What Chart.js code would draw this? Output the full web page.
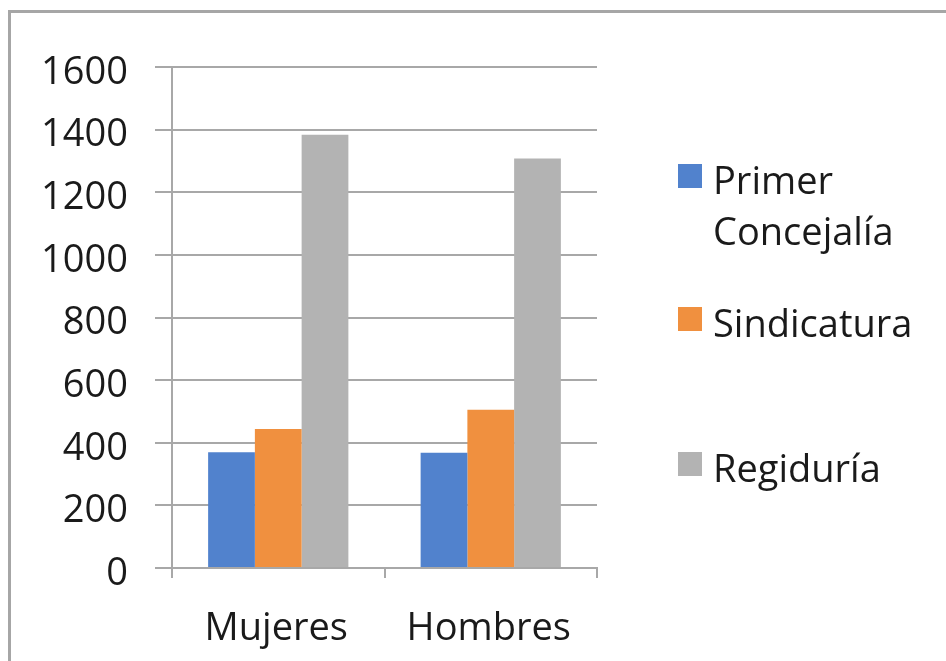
<!DOCTYPE html>
<html>
<head>
<meta charset="utf-8">
<script src="https://cdn.jsdelivr.net/npm/chart.js@4"></script>
<style>
  body { margin: 0; background: #fff; font-family: "Open Sans", sans-serif; }
  #wrap { position: relative; width: 946px; height: 661px; overflow: hidden; }
  #frame { position: absolute; left: 8px; top: 10px; width: 1200px; height: 1200px; border: 3px solid #a6a6a6; }
  canvas { position: absolute; left: 0; top: 0; }
  .lg { position: absolute; left: 678px; }
  .sw { position: absolute; left: 0; width: 24px; height: 24px; }
  .tx { position: absolute; left: 35px; font-size: 38px; line-height: 51px; color: #1a1a1a; white-space: nowrap; }
</style>
</head>
<body>
<div id="wrap">
  <div id="frame"></div>
  <canvas id="chart" width="946" height="661"></canvas>
  <div id="legend"></div>
</div>
<script>
const categories = ['Mujeres', 'Hombres'];
const primerConcejalia = [370, 368];
const sindicatura = [444, 505];
const regiduria = [1384, 1308];
const seriesNames = [['Primer', 'Concejalía'], ['Sindicatura'], ['Regiduría']];
const yTicks = [0, 200, 400, 600, 800, 1000, 1200, 1400, 1600];

const colors = ['#5182cd', '#f0903f', '#b3b3b3'];
const gridColor = '#a8a8a8';
const font = { family: 'Open Sans', size: 38 };

new Chart(document.getElementById('chart').getContext('2d'), {
  type: 'bar',
  data: {
    labels: categories,
    datasets: [primerConcejalia, sindicatura, regiduria].map((d, i) => ({
      label: seriesNames[i].join(' '),
      data: d,
      backgroundColor: colors[i],
      borderWidth: 0,
      barPercentage: 1,
      categoryPercentage: 0.66
    }))
  },
  options: {
    responsive: false,
    animation: false,
    layout: { padding: { left: 0, top: 67, right: 349, bottom: 0 } },
    plugins: { legend: { display: false }, tooltip: { enabled: false } },
    scales: {
      x: {
        offset: true,
        grid: { offset: true, drawOnChartArea: false, drawTicks: true, tickLength: 10, color: gridColor, lineWidth: 2 },
        border: { color: gridColor, width: 2 },
        ticks: { font: font, color: '#1a1a1a', padding: 28, labelOffset: -2 },
        afterFit: s => { s.height = 661 - 568; }
      },
      y: {
        min: 0,
        max: 1600,
        afterBuildTicks: s => { s.ticks = yTicks.map(v => ({ value: v })); },
        grid: { tickLength: 17, color: gridColor, lineWidth: 2 },
        border: { color: gridColor, width: 2 },
        ticks: { font: font, color: '#1a1a1a', padding: 27, labelOffset: 6, callback: v => String(v) },
        afterFit: s => { s.width = 172; }
      }
    }
  }
});

// legend drawn as html so the first label can wrap on two lines
const legendTops = [154, 297, 442];
const legend = document.getElementById('legend');
seriesNames.forEach((name, i) => {
  const item = document.createElement('div');
  item.className = 'lg';
  item.style.top = legendTops[i] + 'px';
  const sw = document.createElement('div');
  sw.className = 'sw';
  sw.style.top = '10px';
  sw.style.background = colors[i];
  const tx = document.createElement('div');
  tx.className = 'tx';
  tx.innerHTML = name.join('<br>');
  item.appendChild(sw);
  item.appendChild(tx);
  legend.appendChild(item);
});
</script>
</body>
</html>
